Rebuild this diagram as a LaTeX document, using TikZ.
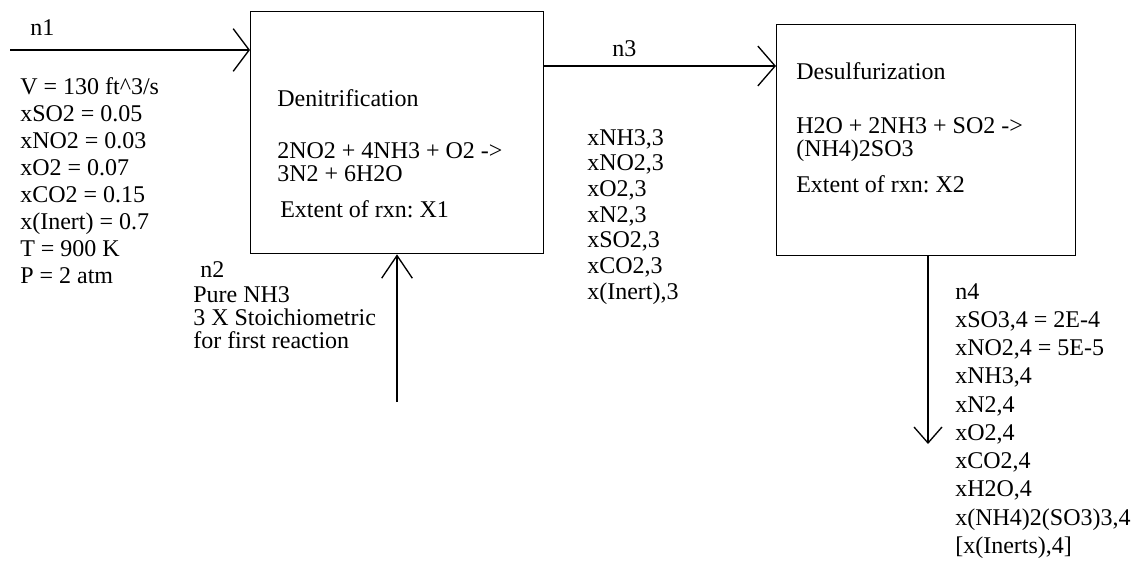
\documentclass[tikz,border=0pt]{standalone}
\usepackage{fontspec}
\setmainfont{Liberation Serif}
\usetikzlibrary{arrows.meta}
\frenchspacing
\begin{document}
\begin{tikzpicture}[x=0.75pt,y=-0.75pt,
  unit/.style={draw, line width=1pt, inner sep=0pt, anchor=north west},
  stream/.style={line width=1pt},
  txt/.style={inner sep=0pt, anchor=north west, align=left,
    font=\fontsize{18}{#1}\selectfont},
  txt/.default=20.25pt,
  tipA/.style={-{Straight Barb[length=12pt,width=32pt,line width=1pt]}},
  tipB/.style={-{Straight Barb[length=13pt,width=30pt,line width=1pt]}},
  tipC/.style={-{Straight Barb[length=17pt,width=23pt,line width=1pt]}},
  tipD/.style={-{Straight Barb[length=12pt,width=21pt,line width=1pt]}},
]
\useasboundingbox (0,0) rectangle (1140,564);

% process units
\node[unit, minimum width=219.75pt, minimum height=181.5pt] (denit) at (250,11) {};
\node[unit, minimum width=224.25pt, minimum height=173.25pt] (desulf) at (776,24) {};

% streams
\coordinate (in1) at (10,50);
\draw[stream, tipA] (in1) -- (in1 -| denit.west);

\coordinate (s3) at (600,66);
\draw[stream, tipB] (denit.east |- s3) -- (desulf.west |- s3);

\coordinate (in2) at (397,402);
\draw[stream, tipC] (in2) -- (in2 |- denit.south);

\coordinate (out4) at (928,444);
\draw[stream, tipD] (out4 |- desulf.south) -- (out4);

% stream labels
\node[txt] (n1) at (30,19) {n1};
\node[txt=20.25pt] (feed1) at (20,77) {V = 130 ft\^{}3/s\\ xSO2 = 0.05\\ xNO2 = 0.03\\ xO2 = 0.07\\ xCO2 = 0.15\\ x(Inert) = 0.7\\ T = 900 K\\ P = 2 atm};

\node[txt] (n2) at (200,261) {n2};
\node[txt=17.25pt] (feed2) at (193,286) {Pure NH3\\ 3 X Stoichiometric\\ for first reaction};

\node[txt] (n3) at (612,40) {n3};
\node[txt=19.25pt] (mid3) at (587,129) {xNH3,3\\ xNO2,3\\ xO2,3\\ xN2,3\\ xSO2,3\\ xCO2,3\\ x(Inert),3};

\node[txt=21.2pt] (out4txt) at (955,283) {n4\\ xSO3,4 = 2E-4\\ xNO2,4 = 5E-5\\ xNH3,4\\ xN2,4\\ xO2,4\\ xCO2,4\\ xH2O,4\\ x(NH4)2(SO3)3,4\\ \relax[x(Inerts),4]};

% unit texts
\node[txt] (denitname) at (277,89) {Denitrification};
\node[txt=17.25pt] (denitrxn) at (277,142) {2NO2 + 4NH3 + O2 -\kern0pt>\\ 3N2 + 6H2O};
\node[txt] (denitext) at (280,200) {Extent of rxn: X1};

\node[txt] (desulfname) at (796,62) {Desulfurization};
\node[txt=17.25pt] (desulfrxn) at (796,117) {H2O + 2NH3 + SO2 -\kern0pt>\\ (NH4)2SO3};
\node[txt] (desulfext) at (796,175) {Extent of rxn: X2};
\end{tikzpicture}
\end{document}
